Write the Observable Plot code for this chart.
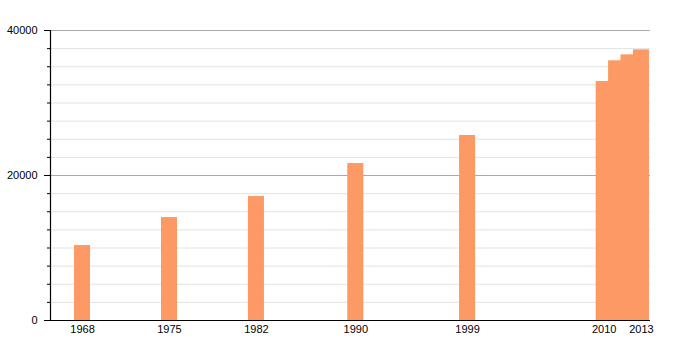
<!DOCTYPE html>
<html>
<head>
<meta charset="utf-8">
<script src="https://cdn.jsdelivr.net/npm/d3@7"></script>
<script src="https://cdn.jsdelivr.net/npm/@observablehq/plot@0.6"></script>
<style>
  html, body { margin: 0; padding: 0; background: #fff; }
  #chart { width: 700px; height: 350px; }
</style>
</head>
<body>
<div id="chart"></div>
<script>
const years = [1968, 1975, 1982, 1990, 1999, 2010, 2011, 2012, 2013];
const population = [10340, 14200, 17100, 21650, 25520, 32970, 35820, 36640, 37330];
const xTickYears = [1968, 1975, 1982, 1990, 1999, 2010, 2013];
const yMajorTicks = [0, 20000, 40000];
const yMinorTicks = d3.range(0, 40001, 2500);

const data = years.map((y, i) => ({year: y, value: population[i]}));
const halfWidth = 0.645;

const chart = Plot.plot({
  width: 700,
  height: 350,
  marginLeft: 50,
  marginRight: 50,
  marginTop: 30,
  marginBottom: 30,
  style: {fontFamily: "'Liberation Sans', Arial, sans-serif", fontSize: "11px", color: "#000", background: "#fff"},
  x: {domain: [1965.42, 2013.73], label: null},
  y: {domain: [0, 40000], label: null},
  marks: [
    Plot.ruleY(yMinorTicks.filter(d => d % 20000 !== 0), {stroke: "#e2e2e2", strokeWidth: 1}),
    Plot.ruleY(yMajorTicks.filter(d => d !== 0), {stroke: "#aaaaaa", strokeWidth: 1}),
    Plot.rect(data, {x1: d => d.year - halfWidth, x2: d => d.year + halfWidth, y1: 0, y2: "value", fill: "#fc9964"}),
    Plot.axisY({ticks: yMinorTicks, tickSize: 3, text: null, stroke: "#000", strokeOpacity: 1, label: null}),
    Plot.axisY({ticks: yMajorTicks, tickSize: 6, tickPadding: 7, tickFormat: d => String(d), stroke: "#000", strokeOpacity: 1, fill: "#000", label: null}),
    Plot.axisX({ticks: xTickYears, tickSize: 0, tickPadding: 5, tickFormat: d => String(d), fill: "#000", label: null}),
    Plot.ruleX([1965.42], {stroke: "#000", strokeWidth: 1.2}),
    Plot.ruleY([0], {stroke: "#000", strokeWidth: 1.2})
  ]
});
document.getElementById("chart").appendChild(chart);
</script>
</body>
</html>
